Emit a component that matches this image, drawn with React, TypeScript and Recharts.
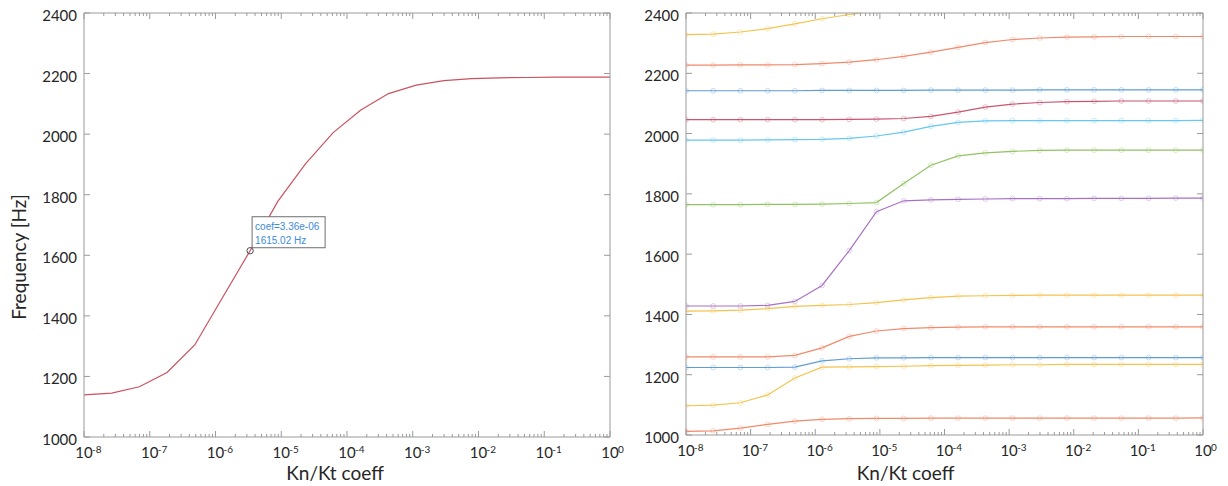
import { LineChart, Line, XAxis, YAxis, ReferenceDot } from "recharts";

// Kn/Kt coefficient sweep (logspace 1e-8 .. 1, 20 points)
const COEFF = [
  1e-8, 2.637e-8, 6.952e-8, 1.833e-7, 4.833e-7, 1.274e-6, 3.36e-6, 8.859e-6,
  2.336e-5, 6.158e-5, 1.624e-4, 4.281e-4, 1.129e-3, 2.976e-3, 7.848e-3,
  2.069e-2, 5.456e-2, 1.438e-1, 3.793e-1, 1,
];

// left panel: single mode
const SINGLE_MODE = [
  1139, 1145, 1166, 1213, 1304, 1460, 1615.02, 1778, 1902, 2005, 2080, 2134,
  2162, 2177, 2183, 2186, 2187, 2188, 2188, 2188,
];

// right panel: all modes
const MODE_Y1 = [2328, 2330, 2337, 2348, 2364, 2381, 2395, 2408, 2418, 2426, 2432, 2436, 2438, 2439, 2440, 2440, 2440, 2440, 2440, 2440];
const MODE_O1 = [2227, 2227, 2228, 2228, 2229, 2232, 2237, 2245, 2256, 2270, 2286, 2302, 2312, 2317, 2320, 2321, 2322, 2322, 2322, 2322];
const MODE_B1 = [2142, 2142, 2142, 2142, 2142, 2143, 2143, 2143, 2143, 2144, 2144, 2144, 2144, 2145, 2145, 2145, 2145, 2145, 2145, 2145];
const MODE_R1 = [2046, 2046, 2046, 2046, 2046, 2046, 2047, 2048, 2050, 2057, 2071, 2088, 2098, 2103, 2106, 2107, 2108, 2108, 2108, 2108];
const MODE_C1 = [1978, 1978, 1978, 1979, 1980, 1981, 1984, 1992, 2005, 2024, 2037, 2042, 2043, 2043, 2043, 2043, 2043, 2043, 2043, 2044];
const MODE_G1 = [1764, 1764, 1764, 1765, 1765, 1766, 1768, 1771, 1834, 1895, 1926, 1936, 1941, 1944, 1945, 1945, 1945, 1945, 1945, 1945];
const MODE_P1 = [1428, 1428, 1428, 1430, 1443, 1496, 1612, 1741, 1777, 1780, 1782, 1783, 1784, 1784, 1784, 1785, 1785, 1785, 1786, 1786];
const MODE_Y2 = [1411, 1412, 1414, 1419, 1427, 1430, 1433, 1439, 1448, 1456, 1461, 1462, 1463, 1464, 1464, 1464, 1464, 1464, 1464, 1464];
const MODE_O2 = [1259, 1259, 1259, 1259, 1264, 1289, 1327, 1345, 1353, 1356, 1358, 1359, 1359, 1359, 1359, 1359, 1359, 1359, 1359, 1359];
const MODE_B2 = [1224, 1224, 1224, 1224, 1225, 1246, 1253, 1256, 1256, 1257, 1257, 1257, 1257, 1257, 1257, 1257, 1257, 1257, 1257, 1257];
const MODE_Y3 = [1097, 1099, 1107, 1133, 1189, 1225, 1226, 1227, 1228, 1230, 1231, 1232, 1233, 1233, 1234, 1234, 1234, 1234, 1234, 1234];
const MODE_O3 = [1012, 1014, 1023, 1035, 1046, 1052, 1054, 1055, 1055, 1056, 1056, 1056, 1056, 1056, 1056, 1056, 1056, 1056, 1056, 1057];

const SERIES = [
  { key: "y1", color: "#f3c450", values: MODE_Y1 },
  { key: "o1", color: "#f08a6a", values: MODE_O1 },
  { key: "b1", color: "#5e9dd6", values: MODE_B1 },
  { key: "r1", color: "#c8566f", values: MODE_R1 },
  { key: "c1", color: "#66c7ef", values: MODE_C1 },
  { key: "g1", color: "#92c263", values: MODE_G1 },
  { key: "p1", color: "#a872c4", values: MODE_P1 },
  { key: "y2", color: "#f3c450", values: MODE_Y2 },
  { key: "o2", color: "#f08a6a", values: MODE_O2 },
  { key: "b2", color: "#5e9dd6", values: MODE_B2 },
  { key: "y3", color: "#f3c450", values: MODE_Y3 },
  { key: "o3", color: "#f08a6a", values: MODE_O3 },
];

const MAJOR_X = [1e-8, 1e-7, 1e-6, 1e-5, 1e-4, 1e-3, 1e-2, 1e-1, 1];
const MINOR_MANTISSA = [2, 3, 4, 5, 6, 7, 8, 9];
const MINOR_X = MAJOR_X.slice(0, -1).flatMap((d) => MINOR_MANTISSA.map((m) => m * d));
const Y_TICKS = [1000, 1200, 1400, 1600, 1800, 2000, 2200, 2400];

const FONT = "Lato, 'Open Sans', sans-serif";
const TEXT = "#262626";
const FRAME = "#9a9a9a";

const singleData = COEFF.map((c, i) => ({ coef: c, f: SINGLE_MODE[i] }));
const allData = COEFF.map((c, i) => {
  const row: Record<string, number> = { coef: c };
  SERIES.forEach((s) => (row[s.key] = s.values[i]));
  return row;
});

const TIP_INDEX = 6;

function fmtExp(v: number) {
  const [m, e] = v.toExponential(2).split("e");
  const n = Number(e);
  return `${m}e${n < 0 ? "-" : "+"}${String(Math.abs(n)).padStart(2, "0")}`;
}

function LogTick({ x, y, payload }: any) {
  const exp = Math.round(Math.log10(payload.value));
  return (
    <g fontFamily={FONT} fill={TEXT}>
      <text x={x} y={y + 21} textAnchor="middle" fontSize={15}>
        10
      </text>
      <text x={x + 8} y={y + 16} textAnchor="start" fontSize={10}>
        {exp}
      </text>
    </g>
  );
}

function YTick({ x, y, payload }: any) {
  return (
    <text x={x} y={y + 8} textAnchor="end" fontSize={15} fontFamily={FONT} fill={TEXT}>
      {payload.value}
    </text>
  );
}

const NoTick = () => <g />;

function DataTip({ cx, cy }: any) {
  return (
    <g fontFamily="Arial, 'Liberation Sans', sans-serif">
      <circle cx={cx} cy={cy} r={3.2} fill="none" stroke="#4d4d4d" strokeWidth={1} />
      <rect x={cx + 2} y={cy - 34} width={73} height={31} fill="#fff" stroke="#6e6e6e" strokeWidth={1} />
      <text x={cx + 5} y={cy - 21} fontSize={10} fill="#3d8bd8">
        coef={fmtExp(COEFF[TIP_INDEX])}
      </text>
      <text x={cx + 5} y={cy - 7} fontSize={10} fill="#3d8bd8">
        {SINGLE_MODE[TIP_INDEX].toFixed(2)} Hz
      </text>
    </g>
  );
}

// thin (inside) tick axes first so the labelled axes don't shift them
const THIN = 0.01;

function frameAxes(yWidth: number, xShift: number, xBase: number, withYTitle: boolean) {
  const logX = { type: "number" as const, scale: "log" as const, domain: [1e-8, 1], allowDataOverflow: true, dataKey: "coef", interval: 0 as const };
  const linY = { type: "number" as const, domain: [1000, 2400], allowDataOverflow: true, ticks: Y_TICKS, interval: 0 as const };
  return [
    <XAxis key="bMaj" xAxisId="bMaj" {...logX} orientation="bottom" mirror height={THIN} ticks={MAJOR_X} tick={<NoTick />} tickSize={6} axisLine={false} stroke={FRAME} />,
    <XAxis key="bMin" xAxisId="bMin" {...logX} orientation="bottom" mirror height={THIN} ticks={MINOR_X} tick={<NoTick />} tickSize={3} axisLine={false} stroke={FRAME} />,
    <XAxis key="tMaj" xAxisId="tMaj" {...logX} orientation="top" mirror height={THIN} ticks={MAJOR_X} tick={<NoTick />} tickSize={6} axisLine={{ stroke: FRAME }} stroke={FRAME} />,
    <XAxis key="tMin" xAxisId="tMin" {...logX} orientation="top" mirror height={THIN} ticks={MINOR_X} tick={<NoTick />} tickSize={3} axisLine={false} stroke={FRAME} />,
    <YAxis key="lIn" yAxisId="lIn" {...linY} orientation="left" mirror width={THIN} tick={<NoTick />} tickSize={6} axisLine={false} stroke={FRAME} />,
    <YAxis key="rIn" yAxisId="rIn" {...linY} orientation="right" mirror width={THIN} tick={<NoTick />} tickSize={6} axisLine={{ stroke: FRAME }} stroke={FRAME} />,
    <XAxis
      key="x"
      xAxisId="x"
      {...logX}
      orientation="bottom"
      height={49}
      ticks={MAJOR_X}
      tick={<LogTick />}
      tickSize={0}
      tickMargin={0}
      tickLine={false}
      axisLine={{ stroke: FRAME }}
      label={{
        content: ({ viewBox }: any) => (
          <text x={viewBox.x + viewBox.width / 2 + xShift} y={viewBox.y + xBase} textAnchor="middle" fontSize={19} fontFamily={FONT} fill={TEXT}>
            Kn/Kt coeff
          </text>
        ),
      }}
    />,
    <YAxis
      key="y"
      yAxisId="y"
      {...linY}
      orientation="left"
      width={yWidth}
      tick={<YTick />}
      tickSize={0}
      tickMargin={7}
      tickLine={false}
      axisLine={{ stroke: FRAME }}
      label={
        withYTitle
          ? {
              content: ({ viewBox }: any) => {
                const cx = viewBox.x + 18;
                const cy = viewBox.y + viewBox.height / 2 + 32;
                return (
                  <text x={cx} y={cy} transform={`rotate(-90 ${cx} ${cy})`} textAnchor="middle" dominantBaseline="central" fontSize={19} fontFamily={FONT} fill={TEXT}>
                    Frequency [Hz]
                  </text>
                );
              },
            }
          : undefined
      }
    />,
  ];
}

export default function App() {
  return (
    <div style={{ position: "absolute", left: 0, top: 0, width: 1228, height: 486, background: "#fff" }}>
      <style>{`.recharts-surface { overflow: visible; }`}</style>
      <div style={{ position: "absolute", left: 0, top: 0 }}>
        <LineChart width={620} height={486} data={singleData} margin={{ top: 13, right: 10, bottom: 0, left: 0 }}>
          {frameAxes(84, -12, 43, true)}
          <Line xAxisId="x" yAxisId="y" type="linear" dataKey="f" stroke="#c9535f" strokeWidth={1.2} dot={false} activeDot={false} isAnimationActive={false} />
          <ReferenceDot xAxisId="x" yAxisId="y" x={COEFF[TIP_INDEX]} y={SINGLE_MODE[TIP_INDEX]} shape={<DataTip />} ifOverflow="visible" />
        </LineChart>
      </div>
      <div style={{ position: "absolute", left: 620, top: 0 }}>
        <LineChart width={608} height={486} data={allData} margin={{ top: 13, right: 25, bottom: 2, left: 0 }}>
          {frameAxes(66, -39, 45, false)}
          {SERIES.map((s) => (
            <Line
              key={s.key}
              xAxisId="x"
              yAxisId="y"
              type="linear"
              dataKey={s.key}
              stroke={s.color}
              strokeWidth={1.2}
              dot={{ r: 2.4, fill: "none", stroke: s.color, strokeOpacity: 0.35, strokeWidth: 1 }}
              activeDot={false}
              isAnimationActive={false}
            />
          ))}
        </LineChart>
      </div>
    </div>
  );
}
